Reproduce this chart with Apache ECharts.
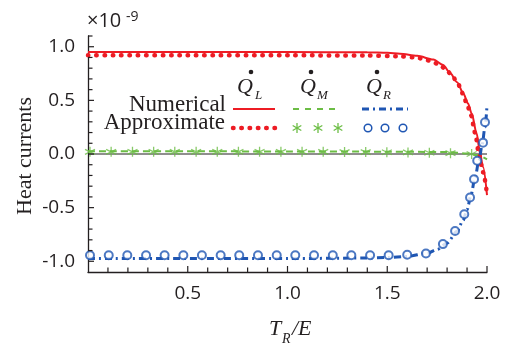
<!DOCTYPE html>
<html>
<head>
<meta charset="utf-8">
<script src="https://cdn.jsdelivr.net/npm/echarts@6/dist/echarts.min.js"></script>
<style>html,body{margin:0;padding:0;background:#fff}#c{width:508px;height:344px}</style>
</head>
<body>
<div id="c"></div>
<script>
// ---- data (values in units of 1e-9) ----
const xTickValues = [0.1,0.2,0.3,0.4,0.5,0.6,0.7,0.8,0.9,1.0,1.1,1.2,1.3,1.4,1.5,1.6,1.7,1.8,1.9,2.0];
const yTickValues = [-1.0,-0.9,-0.8,-0.7,-0.6,-0.5,-0.4,-0.3,-0.2,-0.1,0,0.1,0.2,0.3,0.4,0.5,0.6,0.7,0.8,0.9,1.0,1.1];
const xLabelValues = [0.5,1.0,1.5,2.0];
const yLabelValues = [-1.0,-0.5,0.0,0.5,1.0];

const zeroLine = [[0,0],[2,0]];

const qLNumerical = [[0,0.95],[0.5,0.95],[1.0,0.95],[1.4,0.948],[1.5,0.944],[1.564,0.935],[1.65,0.915],[1.731,0.88],[1.78,0.83],[1.815,0.754],[1.85,0.67],[1.881,0.567],[1.905,0.47],[1.923,0.38],[1.948,0.193],[1.965,0.006],[1.98,-0.12],[2.0,-0.383]];
const qLApprox = [[0,0.92],[0.5,0.92],[1.0,0.92],[1.4,0.918],[1.55,0.912],[1.639,0.9],[1.68,0.888],[1.72,0.865],[1.753,0.84],[1.789,0.80],[1.823,0.738],[1.848,0.676],[1.865,0.629],[1.881,0.55],[1.898,0.474],[1.92,0.36],[1.94,0.2],[1.96,0.0],[1.98,-0.17],[2.0,-0.37]];

const qMNumerical = [[0,0.025],[0.5,0.025],[1.0,0.024],[1.5,0.022],[1.8,0.018],[1.9,0.005],[1.95,-0.01],[2.0,-0.05]];
const qMApprox = [[0.01,0.02],[0.116,0.02],[0.223,0.02],[0.329,0.02],[0.435,0.02],[0.542,0.02],[0.648,0.02],[0.754,0.02],[0.86,0.02],[0.967,0.02],[1.073,0.02],[1.179,0.02],[1.286,0.018],[1.392,0.018],[1.498,0.016],[1.604,0.015],[1.711,0.012],[1.817,0.008],[1.923,0.0]];

const qRNumerical = [[0,-0.975],[0.5,-0.975],[1.0,-0.975],[1.4,-0.97],[1.5,-0.965],[1.6,-0.955],[1.7,-0.925],[1.75,-0.89],[1.8,-0.83],[1.85,-0.72],[1.88,-0.62],[1.9,-0.52],[1.92,-0.38],[1.94,-0.22],[1.96,-0.06],[1.975,0.08],[1.99,0.25],[2.0,0.45]];
const qRApprox = [[0.01,-0.944],[0.104,-0.944],[0.197,-0.944],[0.291,-0.944],[0.384,-0.944],[0.478,-0.944],[0.571,-0.944],[0.665,-0.944],[0.758,-0.944],[0.852,-0.944],[0.946,-0.944],[1.039,-0.944],[1.133,-0.944],[1.227,-0.944],[1.32,-0.944],[1.414,-0.944],[1.507,-0.944],[1.6,-0.94],[1.694,-0.928],[1.779,-0.84],[1.84,-0.717],[1.886,-0.561],[1.915,-0.405],[1.935,-0.236],[1.951,-0.063],[1.98,0.106],[1.99,0.296]];

// ---- styles ----
const RED = '#ed1c24', GREEN = '#6cbd45', BLUE = '#1f56b3', INK = '#231f20';
const SERIF = '"Liberation Serif", "DejaVu Serif", serif';
const SANS = '"Open Sans", "Noto Sans", sans-serif';
const starPath = 'path://M0,-5L0,5M-4.33,-2.5L4.33,2.5M-4.33,2.5L4.33,-2.5';
const X_MIN = 0, X_MAX = 2, Y_MIN = -1.1, Y_MAX = 1.1;

function isLabel(list, v){
  for (let i = 0; i < list.length; i++) { if (Math.abs(list[i] - v) < 1e-6) return true; }
  return false;
}

const chart = echarts.init(document.getElementById('c'), null, {renderer: 'canvas'});

const legendGraphics = [
  {type:'text', x:87, y:21, style:{text:'×10', font:'20px ' + SANS, fill:INK, textVerticalAlign:'middle'}},
  {type:'text', x:126, y:17, style:{text:'-9', font:'14px ' + SANS, fill:INK, textVerticalAlign:'middle'}},
  {type:'text', x:25, y:156, rotation:Math.PI/2, style:{text:'Heat currents', font:'22px ' + SERIF, fill:INK, textAlign:'center', textVerticalAlign:'middle'}},
  {type:'text', x:269, y:329, style:{text:'T', font:'italic 22px ' + SERIF, fill:INK, textVerticalAlign:'middle'}},
  {type:'text', x:282, y:339, style:{text:'R', font:'italic 14px ' + SERIF, fill:INK, textVerticalAlign:'middle'}},
  {type:'text', x:292, y:329, style:{text:'/E', font:'italic 22px ' + SERIF, fill:INK, textVerticalAlign:'middle'}},
  {type:'text', x:226, y:105, style:{text:'Numerical', font:'23px ' + SERIF, fill:INK, textAlign:'right', textVerticalAlign:'middle'}},
  {type:'text', x:225, y:123, style:{text:'Approximate', font:'23px ' + SERIF, fill:INK, textAlign:'right', textVerticalAlign:'middle'}},
  {type:'text', x:237, y:87, style:{text:'Q', font:'italic 22px ' + SERIF, fill:INK, textVerticalAlign:'middle'}},
  {type:'text', x:255, y:96, style:{text:'L', font:'italic 13px ' + SERIF, fill:INK, textVerticalAlign:'middle'}},
  {type:'circle', shape:{cx:251, cy:72, r:2.3}, style:{fill:INK}},
  {type:'text', x:300, y:87, style:{text:'Q', font:'italic 22px ' + SERIF, fill:INK, textVerticalAlign:'middle'}},
  {type:'text', x:317, y:96, style:{text:'M', font:'italic 13px ' + SERIF, fill:INK, textVerticalAlign:'middle'}},
  {type:'circle', shape:{cx:311, cy:72, r:2.3}, style:{fill:INK}},
  {type:'text', x:366, y:87, style:{text:'Q', font:'italic 22px ' + SERIF, fill:INK, textVerticalAlign:'middle'}},
  {type:'text', x:383, y:96, style:{text:'R', font:'italic 13px ' + SERIF, fill:INK, textVerticalAlign:'middle'}},
  {type:'circle', shape:{cx:377, cy:72, r:2.3}, style:{fill:INK}},
  {type:'line', shape:{x1:233, y1:109, x2:275, y2:109}, style:{stroke:RED, lineWidth:2}},
  {type:'line', shape:{x1:293, y1:109, x2:341, y2:109}, style:{stroke:GREEN, lineWidth:2, lineDash:[6,6]}},
  {type:'line', shape:{x1:362, y1:109, x2:408, y2:109}, style:{stroke:BLUE, lineWidth:3, lineDash:[7,4,2,4]}},
  {type:'line', shape:{x1:233, y1:128, x2:276, y2:128}, style:{stroke:RED, lineWidth:4.5, lineCap:'round', lineDash:[0.5,7.8]}},
];
[297,318,338].forEach(function(cx){
  legendGraphics.push({type:'group', x:cx, y:128, children:[
    {type:'line', shape:{x1:0,y1:-5,x2:0,y2:5}, style:{stroke:GREEN, lineWidth:1.3}},
    {type:'line', shape:{x1:-4.33,y1:-2.5,x2:4.33,y2:2.5}, style:{stroke:GREEN, lineWidth:1.3}},
    {type:'line', shape:{x1:-4.33,y1:2.5,x2:4.33,y2:-2.5}, style:{stroke:GREEN, lineWidth:1.3}}
  ]});
});
[368,385,403].forEach(function(cx){
  legendGraphics.push({type:'circle', shape:{cx:cx, cy:128, r:3.8}, style:{fill:'none', stroke:BLUE, lineWidth:1.5}});
});

// tick marks drawn through the axis scales (as thin rectangles)
function xTickRender(params, api){
  const v = api.value(0);
  const p = api.coord([v, Y_MIN]);
  const len = isLabel(xLabelValues, v) ? 6 : 4.5;
  return {type:'rect', shape:{x:p[0] - 0.6, y:p[1] - len, width:1.2, height:len}, style:{fill:INK}};
}
function yTickRender(params, api){
  const v = api.value(1);
  const p = api.coord([X_MIN, v]);
  const len = isLabel(yLabelValues, v) ? 6 : 4.5;
  return {type:'rect', shape:{x:p[0], y:p[1] - 0.6, width:len, height:1.2}, style:{fill:INK}};
}

const option = {
  animation: false,
  backgroundColor: '#fff',
  grid: {left: 88, top: 36, right: 21, bottom: 72},
  xAxis: {
    type: 'value', min: X_MIN, max: X_MAX, interval: 0.5,
    axisLine: {show: true, onZero: false, lineStyle: {color: INK, width: 1.3}},
    axisTick: {show: false},
    axisLabel: {formatter: function(v){return isLabel(xLabelValues, v) ? v.toFixed(1) : '';}, margin: 12, fontSize: 19, fontFamily: SANS, color: INK, hideOverlap: false},
    splitLine: {show: false}
  },
  yAxis: {
    type: 'value', min: Y_MIN, max: Y_MAX, interval: 0.1,
    axisLine: {show: true, onZero: false, lineStyle: {color: INK, width: 1.3}},
    axisTick: {show: false},
    axisLabel: {formatter: function(v){return isLabel(yLabelValues, v) ? v.toFixed(1) : '';}, margin: 13, fontSize: 19, fontFamily: SANS, color: INK, hideOverlap: false},
    splitLine: {show: false}
  },
  graphic: legendGraphics,
  series: [
    {type:'custom', data: xTickValues.map(function(v){return [v, Y_MIN];}), renderItem: xTickRender, clip:false, silent:true, z:10},
    {type:'custom', data: yTickValues.map(function(v){return [X_MIN, v];}), renderItem: yTickRender, clip:false, silent:true, z:10},
    {type:'line', data: zeroLine, symbol:'none', lineStyle:{color:INK, width:1.2}, z:1},
    {type:'line', data: qMNumerical, symbol:'none', smooth:0.3, smoothMonotone:'x', lineStyle:{color:GREEN, width:2, type:[7,4]}, z:2},
    {type:'scatter', data: qMApprox, symbol: starPath, symbolSize: 10, itemStyle:{color:'none', borderColor:GREEN, borderWidth:1.3}, z:3},
    {type:'line', data: qLNumerical, symbol:'none', smooth:0.3, smoothMonotone:'x', lineStyle:{color:RED, width:2}, z:4},
    {type:'line', data: qLApprox, symbol:'none', smooth:0.3, smoothMonotone:'x', lineStyle:{color:RED, width:4.5, cap:'round', type:[0.5,7.8]}, z:5},
    {type:'line', data: qRNumerical, symbol:'none', smooth:0.3, smoothMonotone:'x', lineStyle:{color:BLUE, width:3, type:[7,4,2,4]}, z:6},
    {type:'scatter', data: qRApprox, symbol:'emptyCircle', symbolSize: 8, itemStyle:{color:BLUE, borderColor:BLUE, borderWidth:1.5}, z:7}
  ]
};
chart.setOption(option);
</script>
</body>
</html>
